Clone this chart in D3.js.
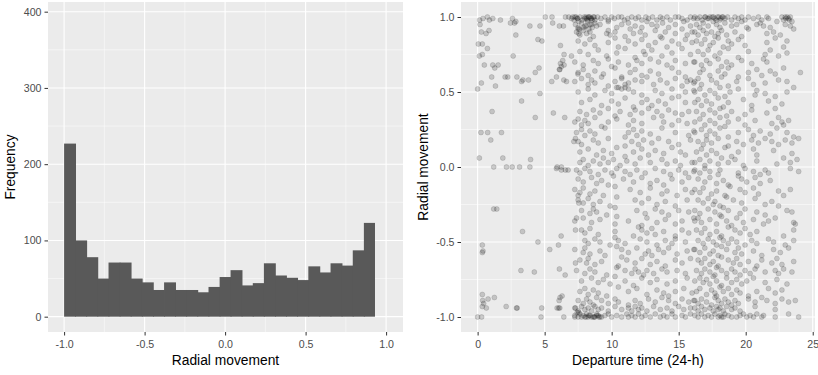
<!DOCTYPE html>
<html>
<head>
<meta charset="utf-8">
<script src="https://cdn.jsdelivr.net/npm/d3@7"></script>
<style>
  body { margin: 0; background: #fff; }
  svg { display: block; }
  text { font-family: "Liberation Sans", Arial, sans-serif; }
</style>
</head>
<body>
<div id="chart"></div>
<script>
// histogram of radial movement (bin left edges, bin width, counts)
const binLeft = [-1.000, -0.931, -0.862, -0.793, -0.724, -0.655, -0.586, -0.517, -0.448, -0.379,
                 -0.310, -0.241, -0.172, -0.103, -0.034, 0.034, 0.103, 0.172, 0.241, 0.310,
                 0.379, 0.448, 0.517, 0.586, 0.655, 0.724, 0.793, 0.862];
const binWidth = 0.069;
const binCount = [227, 100, 78, 50, 71, 71, 50, 45, 35, 45, 35, 35, 32, 39, 52, 61, 41, 44, 70, 54,
                  51, 48, 66, 58, 70, 67, 87, 123];

const histXTicks = [-1.0, -0.5, 0.0, 0.5, 1.0];
const histYTicks = [0, 100, 200, 300, 400];
const scatXTicks = [0, 5, 10, 15, 20, 25];
const scatYTicks = [-1.0, -0.5, 0.0, 0.5, 1.0];

// departure time (h) vs radial movement, early hours, read point by point
const nightPts = [
  [0.4,0.99],[0.73,1],[1.13,0.99],[0.88,0.98],[0.15,0.98],[1.7,0.98],[2.6,0.99],[2.45,0.96],[2.75,0.96],[2.85,0.97],
  [3.9,0.94],[4.65,0.94],[5.05,1],[5.55,1],[5.6,0.96],[6.1,0.94],[6.4,0.94],[6.55,1],[6.8,1],[7.0,0.99],[7.1,1],
  [7.2,0.98],[7.35,1],[7.45,0.99],[7.55,0.97],[7.5,0.92],[7.55,0.89],
  [0.18,0.95],[0.28,0.9],[0.63,0.89],[0.85,0.91],[0.05,0.82],[0.35,0.82],[0.73,0.79],[2.85,0.88],[4.5,0.85],[4.8,0.84],
  [6.18,0.81],[6.45,0.75],[7.0,0.74],[0.13,0.74],[0.35,0.75],[2.65,0.74],[0.5,0.68],[1.13,0.68],[1.53,0.68],[1.28,0.66],
  [1.05,0.6],[2.05,0.6],[2.25,0.6],[2.93,0.6],[3.28,0.57],[3.38,0.58],[3.8,0.58],[4.3,0.63],[4.58,0.66],[5.53,0.57],
  [5.88,0.6],[6.43,0.58],[6.63,0.57],[6.1,0.65],[6.25,0.67],[6.18,0.69],[6.35,0.71],[6.45,0.68],[6.13,0.65],[7.48,0.62],
  [0.28,0.56],[1.33,0.54],[0,0.52],[4.65,0.49],[3.28,0.44],[1.08,0.37],[4.3,0.33],[5.65,0.36],[6.5,0.33],[0.25,0.23],
  [0.75,0.23],[0.98,0.18],[1.78,0.23],[7.18,0.17],[7.3,0.19],[0.13,0.06],[1.88,0.06],[3.95,0.05],[1.2,0],[2.15,0],
  [2.58,0],[3.13,0],[3.9,0],[5.93,0],[6.25,0],[5.88,-0.01],[6.25,-0.02],[6.55,-0.02],[6.75,-0.02],[7.5,-0.19],
  [7.55,-0.24],[1.2,-0.28],[1.43,-0.28],[7.38,-0.34],[3.35,-0.43],[7.3,-0.42],[6.23,-0.46],[0.35,-0.52],[0.4,-0.56],
  [0.35,-0.57],[4.5,-0.5],[6.03,-0.52],[5.38,-0.55],[7.3,-0.64],[3.23,-0.69],[4.23,-0.7],[6.1,-0.68],[6.53,-0.72],
  [0.35,-0.85],[0.38,-0.89],[0.78,-0.88],[1.25,-0.87],[0.45,-0.91],[0.35,-0.93],[0.65,-0.94],[2.13,-0.93],[2.9,-0.94],
  [2.95,-0.94],[4.78,-0.94],[6.08,-0.89],[6.3,-0.86],[6.15,-0.87],[5.93,-0.94],[6.05,-0.94],[6.13,-0.94],[7.3,-0.94],
  [7.43,-0.97],[7.55,-0.97],[0,-1],[0.3,-1],[4.73,-1],[6.43,-1],[7.25,-1]
];

// daytime rows: [departure hours], [radial movement]
const dayUpper = [
  [[7.25,7.45,7.63,7.8,7.95,8.13,8.25,8.38,8.5,8.63,8.75,8.95,9.2,9.5,9.75,10.0,10.2,10.5,10.75,10.95,11.2,11.5,11.8,12.0,12.25,12.55,12.75,13.05,13.38,13.63,13.8,14.13,14.38,14.75,15.0,15.25,15.63,15.88,16.13,8.0,8.08,8.2,8.3,8.45,8.55,8.7],
   [1,.99,1,.98,1,.99,1,1,.99,1,.98,1,.99,1,.98,1,.99,1,1,.98,.99,1,.99,1,.98,1,.99,1,.98,1,.99,1,.98,1,1,.99,.98,1,.99,.99,1,.98,1,.99,.98,1]],
  [[7.3,7.5,7.75,8.0,8.2,8.38,8.55,8.75,8.88,9.13,9.75,10.38,10.75,11.25,11.75,12.25,12.63,13.0,13.38,13.8,14.25,14.75,15.38,15.88,7.6,7.9,8.1,8.3,8.5],
   [.95,.93,.96,.94,.97,.95,.93,.96,.94,.95,.97,.93,.95,.96,.94,.93,.97,.95,.94,.96,.93,.95,.97,.94,.92,.93,.94,.92,.95]],
  [[7.38,7.63,7.88,8.13,8.38,8.63,9.63,9.75,9.88,10.25,11.0,11.38,11.63,12.13,12.5,13.25,13.63,14.0,14.75,15.25,15.63,16.0],
   [.9,.88,.91,.89,.9,.87,.89,.91,.88,.9,.87,.92,.89,.9,.88,.91,.87,.9,.89,.92,.88,.9]],
  [[7.5,8.0,8.38,8.75,9.75,10.25,10.5,11.25,11.75,12.25,12.75,13.25,13.75,14.13,14.5,15.0,15.5,16.0],
   [.84,.82,.85,.81,.83,.86,.8,.84,.82,.85,.81,.83,.86,.8,.84,.82,.85,.83]],
  [[7.63,8.25,9.0,9.63,10.38,11.0,11.75,12.38,12.5,13.0,13.75,14.5,15.25,15.88],
   [.77,.75,.78,.74,.76,.79,.73,.77,.75,.78,.74,.76,.79,.75]],
  [[7.25,7.88,8.63,9.0,9.75,10.0,10.5,11.25,11.88,12.25,12.88,13.5,14.13,14.75,15.5,16.13],
   [.7,.68,.71,.69,.72,.67,.7,.68,.71,.69,.72,.7,.68,.71,.69,.7]],
  [[7.5,7.88,8.25,8.75,9.38,10.25,10.75,11.38,11.75,12.25,12.88,13.5,14.5,15.0,15.5],
   [.63,.65,.61,.64,.62,.66,.6,.63,.65,.61,.64,.62,.66,.63,.6]],
  [[7.25,7.75,8.25,8.5,8.75,9.25,9.75,10.25,10.75,11.0,11.25,11.75,12.25,12.63,13.13,13.63,14.13,14.75,15.25,15.63,15.88,16.13],
   [.57,.59,.55,.58,.56,.6,.54,.57,.59,.55,.56,.58,.57,.6,.55,.58,.56,.59,.54,.57,.58,.56]],
  [[7.5,8.25,8.75,9.5,10.0,10.38,10.5,10.75,11.0,11.25,11.63,12.25,13.25,13.75,14.5,15.0,15.5,16.13],
   [.5,.52,.48,.51,.49,.53,.53,.52,.53,.52,.5,.48,.51,.49,.52,.47,.5,.51]],
  [[7.75,8.38,9.25,10.0,10.5,11.0,11.63,12.25,12.63,13.0,13.5,14.0,14.5,15.5],
   [.43,.45,.41,.44,.42,.46,.4,.43,.45,.41,.44,.42,.46,.43]],
  [[7.63,8.13,8.63,9.13,9.75,10.25,10.63,11.38,11.75,12.25,12.75,13.38,13.75,14.25,14.75,15.25,15.75],
   [.37,.35,.38,.36,.39,.34,.37,.35,.38,.36,.39,.37,.34,.38,.36,.35,.37]],
  [[7.25,7.5,7.75,8.0,8.25,8.75,9.25,9.75,10.38,11.25,11.63,12.25,13.13,13.88,14.5,15.0,15.63],
   [.3,.32,.28,.31,.29,.33,.27,.3,.32,.28,.31,.29,.33,.3,.28,.31,.29]],
  [[7.38,7.75,8.0,8.38,8.75,9.5,11.0,11.25,11.63,11.88,12.25,12.88,13.75,14.75,15.75,16.13],
   [.23,.25,.21,.24,.22,.26,.2,.23,.25,.21,.24,.22,.26,.23,.21,.24]],
  [[7.5,7.75,8.63,9.0,9.75,11.0,11.5,12.0,12.38,13.0,13.5,14.25,15.0,15.88],
   [.17,.15,.18,.16,.19,.14,.17,.15,.18,.16,.19,.17,.15,.18]],
  [[7.63,8.25,8.88,9.38,10.0,10.38,11.0,11.63,12.25,12.75,13.25,13.88,14.5,15.13,15.5],
   [.1,.12,.08,.11,.09,.13,.07,.1,.12,.08,.11,.09,.13,.1,.08]],
  [[7.63,7.88,8.25,8.63,9.13,9.38,9.75,10.13,10.63,11.13,11.75,12.13,12.88,13.75,14.13,14.75,15.13,16.0],
   [.03,.05,.01,.04,.02,.06,.03,.05,.01,.04,.02,.06,.03,.05,.02,.04,.01,.03]]
];

const dayLower = [
  [[7.38,7.63,8.0,8.38,9.0,9.5,10.0,10.38,11.0,11.38,11.88,12.5,13.25,13.88,14.38,15.0,15.5,16.13],
   [-.02,-.04,-.01,-.03,-.05,-.02,-.04,-.01,-.03,-.05,-.02,-.04,-.01,-.03,-.05,-.02,-.04,-.03]],
  [[7.5,7.88,8.5,8.88,9.25,9.75,10.13,10.88,11.63,12.25,12.88,13.38,13.88,14.5,15.25,15.75],
   [-.08,-.1,-.07,-.11,-.09,-.12,-.06,-.08,-.1,-.07,-.11,-.09,-.12,-.08,-.1,-.07]],
  [[7.25,7.63,7.88,8.38,8.75,9.38,10.25,11.38,12.13,12.88,13.75,14.13,14.88,15.5,16.0],
   [-.15,-.17,-.14,-.18,-.16,-.19,-.13,-.15,-.17,-.14,-.18,-.16,-.19,-.15,-.17]],
  [[7.5,7.88,8.25,8.63,9.13,9.88,10.38,11.75,12.25,12.75,13.38,14.0,14.75,15.63],
   [-.22,-.24,-.21,-.25,-.23,-.26,-.2,-.22,-.24,-.21,-.25,-.23,-.26,-.22]],
  [[7.75,8.38,8.63,8.88,9.63,10.25,11.88,12.5,13.25,13.75,14.25,15.0,15.75],
   [-.29,-.31,-.28,-.3,-.32,-.27,-.29,-.31,-.28,-.3,-.32,-.29,-.3]],
  [[7.25,7.88,8.5,9.13,10.25,10.38,11.25,12.25,12.63,13.38,14.0,14.75,15.25,16.13],
   [-.36,-.34,-.37,-.35,-.38,-.33,-.36,-.39,-.34,-.37,-.35,-.38,-.36,-.34]],
  [[7.75,8.0,8.38,9.0,10.25,11.63,12.0,12.25,12.63,13.0,13.25,13.88,14.75,15.25,15.75],
   [-.42,-.44,-.41,-.45,-.43,-.46,-.4,-.42,-.44,-.41,-.45,-.43,-.46,-.42,-.44]],
  [[8.0,8.25,8.75,9.13,9.88,10.25,10.5,11.0,12.13,12.63,13.38,14.0,14.5,14.75,15.5],
   [-.49,-.51,-.48,-.5,-.52,-.47,-.49,-.51,-.48,-.5,-.52,-.49,-.51,-.48,-.5]],
  [[7.25,7.88,8.0,8.38,9.13,9.5,10.38,10.75,11.25,11.88,12.5,12.75,13.0,13.5,13.88,14.25,14.88,15.63,16.13],
   [-.55,-.57,-.54,-.58,-.56,-.59,-.53,-.55,-.57,-.54,-.58,-.56,-.59,-.55,-.57,-.54,-.58,-.56,-.55]],
  [[7.63,8.13,8.25,8.75,9.25,10.5,10.75,11.13,11.75,12.25,12.88,13.38,14.0,14.75,15.25,15.88],
   [-.62,-.64,-.61,-.65,-.63,-.66,-.6,-.62,-.64,-.61,-.65,-.63,-.66,-.62,-.64,-.61]],
  [[7.38,8.0,8.38,8.75,9.63,10.38,11.0,11.5,11.75,12.0,12.38,12.63,13.13,13.75,14.13,14.88,15.5],
   [-.69,-.71,-.68,-.7,-.72,-.67,-.69,-.71,-.68,-.7,-.72,-.69,-.71,-.68,-.7,-.69,-.71]],
  [[7.75,8.5,9.0,9.38,9.88,10.25,11.0,11.63,12.25,12.88,13.38,14.13,14.75,15.63],
   [-.76,-.74,-.77,-.75,-.78,-.73,-.76,-.79,-.74,-.77,-.75,-.78,-.76,-.74]],
  [[7.63,8.0,8.25,8.63,9.0,9.63,10.5,11.25,11.88,12.63,13.38,13.88,14.25,14.75,15.38,16.0],
   [-.83,-.81,-.85,-.82,-.84,-.86,-.8,-.83,-.81,-.85,-.82,-.84,-.86,-.83,-.81,-.84]],
  [[7.5,7.88,8.13,8.38,8.63,8.88,9.25,9.75,10.25,10.5,11.25,11.75,12.13,12.75,13.25,13.75,14.25,14.75,15.25,15.75,16.13],
   [-.89,-.91,-.88,-.9,-.92,-.87,-.89,-.91,-.88,-.9,-.92,-.89,-.91,-.88,-.9,-.87,-.89,-.91,-.88,-.9,-.89]],
  [[7.25,7.5,7.75,8.0,8.25,8.5,8.75,9.0,9.25,9.75,10.25,10.75,11.25,11.5,11.75,12.0,12.25,12.63,13.13,13.63,14.13,14.5,15.0,15.38,15.88],
   [-.94,-.96,-.93,-.95,-.94,-.96,-.93,-.95,-.94,-.96,-.93,-.95,-.94,-.96,-.93,-.95,-.94,-.96,-.93,-.95,-.94,-.96,-.93,-.95,-.94]],
  [[7.25,7.5,7.63,7.75,7.88,8.0,8.13,8.25,8.38,8.63,8.75,8.88,9.0,9.13,9.25,9.5,9.75,10.0,10.38,10.75,11.13,11.25,11.5,11.75,12.0,12.25,12.5,12.88,13.25,13.63,13.88,14.13,14.5,14.75,15.25,15.5,15.88,8.1,8.3,8.5,8.7,8.9,9.05],
   [-.99,-1,-.98,-1,-.99,-1,-.98,-1,-.99,-1,-1,-.98,-.99,-1,-1,-.99,-.98,-1,-.99,-1,-.98,-1,-.99,-1,-.98,-1,-.99,-1,-.98,-1,-.99,-1,-.98,-1,-.99,-1,-.98,-1,-.99,-1,-1,-.99,-1]]
];

const eveUpper = [
  [[16.2,16.4,16.58,16.75,16.95,17.15,17.33,17.5,17.7,17.9,18.08,18.25,18.45,18.65,18.95,19.2,19.45,19.7,19.95,20.2,20.58,20.95,21.2,21.58,21.7,22.7,22.83,22.95,23.2,23.33,23.45,17.0,17.25,17.6,17.8,18.0,18.15,18.3,23.0,23.1,23.25],
   [1,.99,1,.98,1,.99,1,1,.99,1,.98,1,.99,1,.98,1,.99,1,.98,1,.99,1,.98,1,.99,1,.98,1,.99,1,.97,1,.99,1,.98,1,.99,1,.99,1,.98]],
  [[16.33,16.58,16.83,17.2,17.58,17.83,18.08,18.45,18.95,19.33,19.7,20.08,20.83,21.08,21.33,21.83,22.33,22.95,23.33,23.58],
   [.95,.93,.96,.94,.97,.95,.93,.96,.94,.95,.97,.93,.95,.96,.94,.93,.97,.95,.94,.92]],
  [[16.2,16.45,16.83,17.08,17.45,17.7,17.95,18.2,18.58,19.2,19.7,20.2,21.58,22.08,22.58],
   [.9,.88,.91,.89,.9,.87,.89,.91,.88,.9,.87,.92,.89,.9,.88]],
  [[16.33,16.7,16.95,17.33,17.58,17.95,18.33,18.7,18.95,19.45,19.95,21.58,22.2,22.83,23.08],
   [.84,.82,.85,.81,.83,.86,.8,.84,.82,.85,.81,.83,.86,.8,.84]],
  [[16.45,16.83,17.2,17.7,18.08,18.7,19.45,20.2,21.45,21.83,22.45,23.08],
   [.77,.75,.78,.74,.76,.79,.73,.77,.75,.78,.74,.76]],
  [[16.2,16.7,17.08,17.33,17.95,18.2,18.58,18.95,19.7,20.45,21.33,21.58],
   [.7,.68,.71,.69,.72,.67,.7,.68,.71,.69,.72,.7]],
  [[16.58,16.83,17.33,17.95,18.45,18.7,19.45,20.2,20.83,21.2,21.83,22.2,22.83,24.08],
   [.63,.65,.61,.64,.62,.66,.6,.63,.65,.61,.64,.62,.66,.63]],
  [[16.2,16.45,16.7,17.45,17.83,18.2,18.7,19.33,20.2,20.58,21.45,22.45,23.08,23.58],
   [.57,.59,.55,.58,.56,.6,.54,.57,.59,.55,.56,.58,.57,.53]],
  [[16.2,16.58,16.95,17.33,17.7,18.08,18.45,18.83,19.45,20.7,20.83,21.45,22.2,23.08],
   [.5,.52,.48,.51,.49,.53,.47,.5,.52,.48,.51,.49,.47,.5]],
  [[16.2,16.45,16.7,17.08,17.45,17.95,18.33,18.7,19.83,20.45,21.7,22.7],
   [.43,.45,.41,.44,.42,.46,.4,.43,.45,.41,.44,.42]],
  [[16.33,16.83,17.33,17.7,18.08,18.58,18.95,19.95,20.45,21.58,22.2],
   [.37,.35,.38,.36,.39,.34,.37,.35,.38,.36,.39]],
  [[16.2,16.58,16.95,17.33,17.7,18.08,18.45,18.7,19.45,19.95,20.7,21.95,22.45,22.7,22.83,23.2],
   [.3,.32,.28,.31,.29,.33,.27,.3,.32,.28,.31,.29,.33,.3,.28,.31]],
  [[16.2,16.7,17.08,17.33,17.7,18.08,18.7,19.45,20.2,20.58,21.08,21.83,22.33,23.08,23.58],
   [.23,.25,.21,.24,.22,.26,.2,.23,.25,.21,.24,.22,.26,.23,.2]],
  [[16.45,16.83,17.08,17.45,17.95,18.7,19.33,19.83,20.45,20.95,21.45,21.95,22.45,22.95,23.45,23.95],
   [.17,.15,.18,.16,.19,.14,.17,.15,.18,.16,.19,.17,.15,.18,.16,.19]],
  [[16.33,16.7,17.08,17.45,17.83,18.45,18.95,19.45,20.58,20.83,22.08,23.45],
   [.1,.12,.08,.11,.09,.13,.07,.1,.12,.08,.11,.09]],
  [[16.2,16.58,16.95,17.33,17.95,18.2,18.7,19.2,19.83,20.83,22.33,22.83,23.33,23.83],
   [.03,.05,.01,.04,.02,.06,.03,.05,.01,.04,.02,.06,.03,.05]]
];

const eveLower = [
  [[16.2,16.58,16.95,17.33,17.95,18.08,19.45,19.95,20.58,21.08,21.45,21.7,23.33,23.95],
   [-.02,-.04,-.01,-.03,-.05,-.02,-.04,-.01,-.03,-.05,-.02,-.04,-.01,-.03]],
  [[16.45,16.95,17.33,17.83,18.33,18.7,19.45,19.7,20.08,20.7,21.08,21.83],
   [-.08,-.1,-.07,-.11,-.09,-.12,-.06,-.08,-.1,-.07,-.11,-.09]],
  [[16.2,16.58,16.83,17.45,17.83,18.45,18.83,19.58,19.95,20.58,20.95,22.45,22.83,23.33],
   [-.15,-.17,-.14,-.18,-.16,-.19,-.13,-.15,-.17,-.14,-.18,-.16,-.19,-.15]],
  [[16.45,16.83,17.2,17.58,17.7,18.08,18.58,19.08,19.7,20.7,21.45,21.95,22.45],
   [-.22,-.24,-.21,-.25,-.23,-.26,-.2,-.22,-.24,-.21,-.25,-.23,-.26]],
  [[16.2,16.58,17.2,17.7,18.08,18.33,18.7,19.58,19.95,20.83,21.45,23.08,23.45],
   [-.29,-.31,-.28,-.3,-.32,-.27,-.29,-.31,-.28,-.3,-.32,-.29,-.3]],
  [[16.2,16.45,16.7,17.33,17.83,18.2,18.58,18.95,19.33,19.83,20.58,21.33,21.7,22.2,23.58,23.7],
   [-.36,-.34,-.37,-.35,-.38,-.33,-.36,-.39,-.34,-.37,-.35,-.38,-.36,-.34,-.37,-.38]],
  [[16.33,16.7,16.95,17.33,17.83,18.2,18.7,19.2,19.58,19.95,20.33,20.83,22.83,23.58],
   [-.42,-.44,-.41,-.45,-.43,-.46,-.4,-.42,-.44,-.41,-.45,-.43,-.46,-.42]],
  [[16.45,16.83,17.2,17.58,17.83,18.08,18.33,18.7,18.95,19.33,19.95,20.45,20.83,21.7,22.08,22.95,23.58],
   [-.49,-.51,-.48,-.5,-.52,-.47,-.49,-.51,-.48,-.5,-.52,-.49,-.51,-.48,-.5,-.52,-.49]],
  [[16.2,16.58,16.95,17.33,17.58,17.95,18.2,18.58,19.2,19.45,19.7,20.58,21.2,22.08,22.58,23.2],
   [-.55,-.57,-.54,-.58,-.56,-.59,-.53,-.55,-.57,-.54,-.58,-.56,-.59,-.55,-.57,-.54]],
  [[16.45,16.7,16.95,17.33,17.58,17.95,18.2,18.7,19.08,19.33,19.58,20.2,20.83,21.2,21.95,22.33,22.7,23.58],
   [-.62,-.64,-.61,-.65,-.63,-.66,-.6,-.62,-.64,-.61,-.65,-.63,-.66,-.62,-.64,-.61,-.65,-.63]],
  [[16.33,16.7,16.95,17.33,17.7,17.83,18.2,18.58,18.95,19.2,19.58,19.95,20.33,20.7,21.45,22.2,22.45,22.83,23.45],
   [-.69,-.71,-.68,-.7,-.72,-.67,-.69,-.71,-.68,-.7,-.72,-.69,-.71,-.68,-.7,-.69,-.71,-.68,-.7]],
  [[16.2,16.58,16.83,17.08,17.33,17.58,17.83,18.2,18.58,18.95,19.33,19.7,20.08,20.58,21.45,22.33,23.08],
   [-.76,-.74,-.77,-.75,-.78,-.73,-.76,-.79,-.74,-.77,-.75,-.78,-.76,-.74,-.77,-.75,-.78]],
  [[16.33,16.58,17.08,17.45,17.7,17.83,18.08,18.33,18.7,18.95,19.33,19.58,20.2,20.83,21.7,22.2,22.7],
   [-.83,-.81,-.85,-.82,-.84,-.86,-.8,-.83,-.81,-.85,-.82,-.84,-.86,-.83,-.81,-.84,-.82]],
  [[16.2,16.45,16.7,17.08,17.45,17.7,17.95,18.2,18.45,18.7,18.95,19.2,19.45,20.2,20.7,21.2,21.58,22.2,22.7,23.2,23.7],
   [-.89,-.91,-.88,-.9,-.92,-.87,-.89,-.91,-.88,-.9,-.92,-.89,-.91,-.88,-.9,-.87,-.89,-.91,-.88,-.9,-.89]],
  [[16.2,16.45,16.7,16.95,17.33,17.58,17.83,17.95,18.08,18.33,18.58,18.95,19.2,19.58,20.7,22.2],
   [-.94,-.96,-.93,-.95,-.94,-.96,-.93,-.95,-.94,-.96,-.93,-.95,-.94,-.96,-.93,-.95]],
  [[16.2,16.45,16.7,16.95,17.2,17.45,17.7,17.95,18.08,18.2,18.33,18.45,18.7,18.95,19.33,19.58,19.83,20.08,20.33,20.58,20.83,21.2,21.33,22.2,23.2,23.95],
   [-.99,-1,-.98,-1,-.99,-1,-.98,-1,-.99,-1,-1,-.98,-.99,-1,-1,-.99,-.98,-1,-.99,-1,-.98,-1,-.99,-1,-.98,-1]]
];

function zipRows(rows) {
    let out = [];
    rows.forEach(function(row) {
        let n = Math.min(row[0].length, row[1].length);
        for (let i = 0; i < n; i++) out.push([row[0][i], row[1][i]]);
    });
    return out;
}

const scatterData = nightPts
    .concat(zipRows(dayUpper), zipRows(dayLower), zipRows(eveUpper), zipRows(eveLower));

const W = 818, H = 375;
const svg = d3.select("#chart").append("svg").attr("width", W).attr("height", H);
svg.append("rect").attr("width", W).attr("height", H).attr("fill", "#fff");

const tickCol = "#4d4d4d";
// R prints a plain hyphen, not the unicode minus
const fmt1 = v => d3.format(".1f")(v).replace("\u2212", "-");
const fmt0 = v => d3.format("d")(v).replace("\u2212", "-");

function drawPanel(g, x, y, xMajor, xMinor, yMajor, yMinor) {
    let [x0, x1] = x.range(), [y1, y0] = y.range();
    g.append("rect").attr("x", x0).attr("y", y0).attr("width", x1 - x0).attr("height", y1 - y0)
        .attr("fill", "#ebebeb");
    g.selectAll(".gminx").data(xMinor).join("line")
        .attr("x1", d => x(d)).attr("x2", d => x(d)).attr("y1", y0).attr("y2", y1)
        .attr("stroke", "#fff").attr("stroke-width", 0.5);
    g.selectAll(".gminy").data(yMinor).join("line")
        .attr("y1", d => y(d)).attr("y2", d => y(d)).attr("x1", x0).attr("x2", x1)
        .attr("stroke", "#fff").attr("stroke-width", 0.5);
    g.selectAll(".gmajx").data(xMajor).join("line")
        .attr("x1", d => x(d)).attr("x2", d => x(d)).attr("y1", y0).attr("y2", y1)
        .attr("stroke", "#fff").attr("stroke-width", 1.1);
    g.selectAll(".gmajy").data(yMajor).join("line")
        .attr("y1", d => y(d)).attr("y2", d => y(d)).attr("x1", x0).attr("x2", x1)
        .attr("stroke", "#fff").attr("stroke-width", 1.1);
}

function drawAxes(x, y, xTicks, yTicks, xFmt, yFmt) {
    let [x0] = x.range(), [y1] = y.range();
    let ax = svg.append("g").attr("transform", "translate(0," + y1 + ")")
        .call(d3.axisBottom(x).tickValues(xTicks).tickFormat(xFmt).tickSize(3.5).tickPadding(5));
    let ay = svg.append("g").attr("transform", "translate(" + x0 + ",0)")
        .call(d3.axisLeft(y).tickValues(yTicks).tickFormat(yFmt).tickSize(3.5).tickPadding(3));
    [ax, ay].forEach(function(a) {
        a.select(".domain").remove();
        a.selectAll(".tick line").attr("stroke", "#333").attr("stroke-width", 1);
        a.selectAll(".tick text").attr("fill", tickCol).style("font-size", "10.6px")
            .style("font-family", "'Liberation Sans', Arial, sans-serif");
    });
}

// ---- left: histogram
const hx = d3.scaleLinear().domain([-1.1, 1.105]).range([48, 403]);
const hy = d3.scaleLinear().domain([-20.1, 412.7]).range([332, 2]);
const gL = svg.append("g");
drawPanel(gL, hx, hy, histXTicks, [-0.75, -0.25, 0.25, 0.75], histYTicks, [50, 150, 250, 350]);

gL.selectAll(".bar").data(binLeft).join("rect")
    .attr("x", d => hx(d))
    .attr("width", (d, i) => hx(d + binWidth) - hx(d) + (i < binLeft.length - 1 ? 0.8 : 0))
    .attr("y", (d, i) => hy(binCount[i]))
    .attr("height", (d, i) => hy(0) - hy(binCount[i]))
    .attr("fill", "#595959");

drawAxes(hx, hy, histXTicks, histYTicks, fmt1, fmt0);

svg.append("text").attr("x", (48 + 403) / 2).attr("y", 365)
    .attr("text-anchor", "middle").style("font-size", "13.8px").text("Radial movement");
svg.append("text").attr("transform", "translate(14.5," + 167 + ") rotate(-90)")
    .attr("text-anchor", "middle").style("font-size", "13.8px").text("Frequency");

// ---- right: scatter
const sx = d3.scaleLinear().domain([-1.24, 25.17]).range([461, 815]);
const sy = d3.scaleLinear().domain([-1.1, 1.1]).range([332, 2]);
const gR = svg.append("g");
drawPanel(gR, sx, sy, scatXTicks, [2.5, 7.5, 12.5, 17.5, 22.5], scatYTicks, [-0.75, -0.25, 0.25, 0.75]);

gR.selectAll(".pt").data(scatterData).join("circle")
    .attr("cx", d => sx(d[0]))
    .attr("cy", d => sy(d[1]))
    .attr("r", 2.5)
    .attr("fill", "#000").attr("fill-opacity", 0.17)
    .attr("stroke", "#000").attr("stroke-opacity", 0.2).attr("stroke-width", 0.6);

drawAxes(sx, sy, scatXTicks, scatYTicks, fmt0, fmt1);

svg.append("text").attr("x", (461 + 815) / 2).attr("y", 365)
    .attr("text-anchor", "middle").style("font-size", "13.8px").text("Departure time (24-h)");
svg.append("text").attr("transform", "translate(427.5," + 167 + ") rotate(-90)")
    .attr("text-anchor", "middle").style("font-size", "13.8px").text("Radial movement");
</script>
</body>
</html>
